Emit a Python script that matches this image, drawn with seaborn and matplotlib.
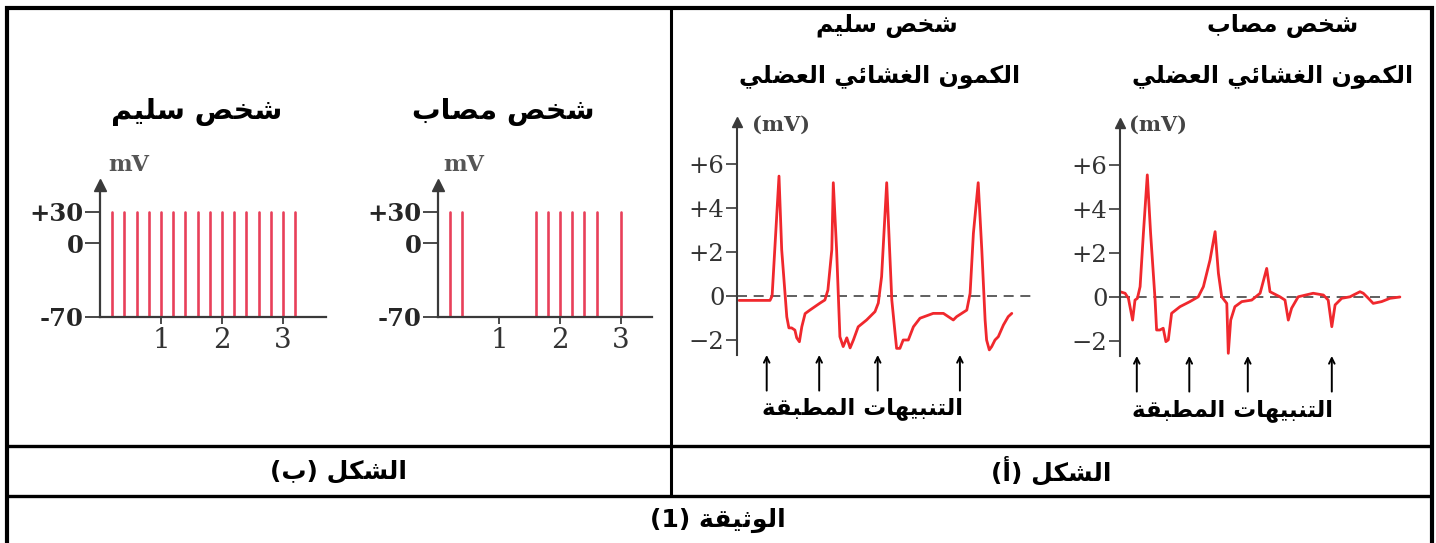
import numpy as np
import pandas as pd
import matplotlib
matplotlib.use("Agg")
import matplotlib.pyplot as plt
import seaborn as sns
from matplotlib.lines import Line2D

# ---- data -----------------------------------------------------------------
# figure (b): spike trains (time in s), spikes go from -70 to +30 mV
healthy_spikes = [0.2, 0.4, 0.6, 0.8, 1.0, 1.2, 1.4, 1.6, 1.8, 2.0, 2.2, 2.4, 2.6, 2.8, 3.0, 3.2]
affected_spikes = [0.2, 0.4, 1.6, 1.8, 2.0, 2.2, 2.4, 2.6, 3.0]
spike_low, spike_high = -70, 30
b_yticks = [-70, 0, 30]
b_yticklabels = ["-70", "0", "+30"]
b_xticks = [1, 2, 3]

# figure (a): muscle membrane potential traces (arbitrary time units, mV)
healthy_t = [0.7, 11.0, 11.7, 14.0, 14.9, 16.6, 17.3, 18.2, 19.3, 19.9, 20.8, 21.6, 22.7, 24.3,
             27.7, 29.3, 30.3, 31.6, 32.1, 33.2, 34.3, 35.4, 36.6, 37.7, 38.8, 40.4, 43.2,
             46.0, 47.1, 48.2, 49.9, 51.6, 52.7, 53.2, 54.3, 55.4, 57.1, 58.8, 61.0, 65.4,
             68.8, 72.1, 73.2, 76.6, 77.7, 78.8, 80.4, 81.6, 82.7, 83.2, 84.1, 84.9, 86.0,
             87.1, 88.8, 90.4, 91.6]
healthy_mv = [-0.2, -0.2, 0.0, 5.45, 2.1, -0.95, -1.45, -1.45, -1.55, -1.9, -2.08, -1.4, -0.8, -0.64,
              -0.32, -0.18, 0.27, 2.1, 5.15, 2.1, -1.85, -2.3, -1.9, -2.36, -2.0, -1.4, -1.09,
              -0.71, -0.32, 0.88, 5.15, -0.18, -1.7, -2.38, -2.38, -2.0, -2.0, -1.4, -1.01, -0.79,
              -0.79, -1.09, -0.94, -0.64, 0.12, 2.85, 5.15, 2.1, -1.09, -2.0, -2.45, -2.3, -2.0,
              -1.85, -1.32, -0.94, -0.79]
affected_t = [0.0, 1.7, 2.8, 4.2, 5.0, 5.8, 6.7, 7.8, 9.1, 10.2, 11.7, 12.2, 13.3, 14.4, 15.3,
              16.1, 17.2, 20.0, 23.3, 26.1, 27.8, 30.0, 31.7, 32.8, 33.9, 35.6, 36.1, 36.9,
              38.3, 40.6, 43.9, 46.7, 48.9, 50.0, 53.3, 55.0, 56.1, 57.2, 59.4, 64.4, 67.8,
              69.4, 70.6, 71.7, 73.9, 76.7, 77.8, 80.0, 81.1, 82.8, 84.4, 87.2, 90.0, 93.3]
affected_mv = [0.24, 0.17, -0.06, -1.05, -0.14, -0.06, 0.47, 2.9, 5.55, 2.9, -0.14, -1.5, -1.5, -1.42,
               -2.03, -1.95, -0.74, -0.44, -0.21, 0.01, 0.47, 1.68, 2.97, 1.08, 0.01, -0.29, -2.56,
               -1.05, -0.44, -0.21, -0.14, 0.17, 1.3, 0.24, 0.01, -0.14, -1.05, -0.51, 0.01, 0.17,
               0.09, -0.14, -1.35, -0.36, -0.06, 0.01, 0.09, 0.24, 0.17, -0.06, -0.29, -0.21,
               -0.06, 0.0]
healthy_stimuli = [9.9, 27.4, 46.9, 74.3]
affected_stimuli = [5.6, 23.1, 42.6, 70.6]
a_yticks = [-2, 0, 2, 4, 6]
a_yticklabels = ["\u22122", "0", "+2", "+4", "+6"]

# texts
t_healthy = "شخص سليم"
t_affected = "شخص مصاب"
t_potential = "الكمون الغشائي العضلي"
t_stimuli = "التنبيهات المطبقة"
t_fig = "الشكل"
t_b = "ب"
t_a = "أ"
t_doc = "الوثيقة"


# ---- minimal Arabic shaping (matplotlib draws no contextual forms) --------
FORMS = {  # isolated, final, initial, medial
    'ا': (0xFE8D, 0xFE8E, None, None), 'أ': (0xFE83, 0xFE84, None, None),
    'ب': (0xFE8F, 0xFE90, 0xFE91, 0xFE92), 'ة': (0xFE93, 0xFE94, None, None),
    'ت': (0xFE95, 0xFE96, 0xFE97, 0xFE98), 'ث': (0xFE99, 0xFE9A, 0xFE9B, 0xFE9C),
    'خ': (0xFEA5, 0xFEA6, 0xFEA7, 0xFEA8), 'س': (0xFEB1, 0xFEB2, 0xFEB3, 0xFEB4),
    'ش': (0xFEB5, 0xFEB6, 0xFEB7, 0xFEB8), 'ص': (0xFEB9, 0xFEBA, 0xFEBB, 0xFEBC),
    'ض': (0xFEBD, 0xFEBE, 0xFEBF, 0xFEC0), 'ط': (0xFEC1, 0xFEC2, 0xFEC3, 0xFEC4),
    'ع': (0xFEC9, 0xFECA, 0xFECB, 0xFECC), 'غ': (0xFECD, 0xFECE, 0xFECF, 0xFED0),
    'ق': (0xFED5, 0xFED6, 0xFED7, 0xFED8), 'ك': (0xFED9, 0xFEDA, 0xFEDB, 0xFEDC),
    'ل': (0xFEDD, 0xFEDE, 0xFEDF, 0xFEE0), 'م': (0xFEE1, 0xFEE2, 0xFEE3, 0xFEE4),
    'ن': (0xFEE5, 0xFEE6, 0xFEE7, 0xFEE8), 'ه': (0xFEE9, 0xFEEA, 0xFEEB, 0xFEEC),
    'و': (0xFEED, 0xFEEE, None, None), 'ي': (0xFEF1, 0xFEF2, 0xFEF3, 0xFEF4),
    'ئ': (0xFE89, 0xFE8A, 0xFE8B, 0xFE8C),
}


def ar(s):
    out = []
    for i, c in enumerate(s):
        if c not in FORMS:
            out.append(c)
            continue
        prev = s[i - 1] if i > 0 else ''
        nxt = s[i + 1] if i + 1 < len(s) else ''
        jp = prev in FORMS and FORMS[prev][2] is not None
        jn = nxt in FORMS and FORMS[c][2] is not None
        iso, fin, ini, med = FORMS[c]
        f = med if (jp and jn) else fin if jp else ini if jn else iso
        out.append(chr(f))
    return ''.join(out[::-1])


# ---- figure ---------------------------------------------------------------
sns.set_style("ticks")
plt.rcParams['font.family'] = ['DejaVu Sans']
W, H = 1436, 543
fig = plt.figure(figsize=(W / 100, H / 100), dpi=100)

AR = dict(family=['DejaVu Sans'], fontweight='bold', color='black')
SERIF = ['DejaVu Serif']

bg = fig.add_axes([0, 0, 1, 1])
bg.set_xlim(0, W)
bg.set_ylim(H, 0)
bg.axis('off')
for (x0, y0, x1, y1, lw) in [(5, 8, 1434, 8, 3.0), (7, 6, 7, H, 3.0), (1432, 6, 1432, H, 3.0),
                             (671, 8, 671, 496, 2.2), (7, 446, 1432, 446, 2.4),
                             (7, 496, 1432, 496, 2.4)]:
    bg.add_line(Line2D([x0, x1], [y0, y1], color='black', lw=lw, solid_capstyle='butt'))


def px_axes(x_left, y_ref_px, x_range, y_range, px_per_x, px_per_y, y_ref=0):
    width = (x_range[1] - x_range[0]) * px_per_x
    top = y_ref_px - (y_range[1] - y_ref) * px_per_y
    bottom = y_ref_px - (y_range[0] - y_ref) * px_per_y
    ax = fig.add_axes([x_left / W, 1 - bottom / H, width / W, (bottom - top) / H])
    ax.set_xlim(*x_range)
    ax.set_ylim(*y_range)
    ax.patch.set_alpha(0)
    return ax


spike_color = '#e8405a'
axis_color = '#3a3a3a'


def spike_panel(ax, spikes):
    df = pd.DataFrame({
        'spike': np.repeat(np.arange(len(spikes)), 2),
        't': np.repeat(spikes, 2),
        'mV': [spike_low, spike_high] * len(spikes),
    })
    sns.lineplot(data=df, x='t', y='mV', units='spike', estimator=None,
                 color=spike_color, lw=1.9, ax=ax, legend=False)
    sns.despine(ax=ax)
    for s in ('left', 'bottom'):
        ax.spines[s].set_color(axis_color)
        ax.spines[s].set_linewidth(1.6)
    ax.set_yticks(b_yticks)
    ax.set_yticklabels(b_yticklabels, family=SERIF, fontweight='bold', fontsize=17.5)
    ax.set_xticks(b_xticks)
    ax.set_xticklabels([str(v) for v in b_xticks], family=SERIF, fontsize=20, color='#333333')
    ax.tick_params(axis='y', length=11, width=1.3, color=axis_color, pad=1)
    ax.tick_params(axis='x', length=5, width=1.3, color=axis_color, pad=2)
    ax.set_xlabel('')
    ax.set_ylabel('')
    ax.plot(0, 1, marker='^', color=axis_color, ms=8, transform=ax.transAxes, clip_on=False)


# figure (b) - healthy: baseline -70 mV sits at pixel row 317
ax1 = px_axes(100, 317, (0, 3.7), (-70, 56), 61, 1.05, y_ref=-70)
spike_panel(ax1, healthy_spikes)
# figure (b) - affected
ax2 = px_axes(438, 317, (0, 3.5), (-70, 56), 61, 1.05, y_ref=-70)
spike_panel(ax2, affected_spikes)

bg.text(197, 112, ar(t_healthy), ha='center', va='center', fontsize=20.5, **AR)
bg.text(503, 112, ar(t_affected), ha='center', va='center', fontsize=20.5, **AR)
bg.text(129, 165, 'mV', ha='center', va='center', family=SERIF, fontsize=16,
        fontweight='bold', color='#555555')
bg.text(464, 165, 'mV', ha='center', va='center', family=SERIF, fontsize=16,
        fontweight='bold', color='#555555')

trace_color = '#f0282d'


def trace_panel(ax, t, mv, stimuli):
    ax.axhline(0, color='#444444', lw=1.2, ls=(0, (6, 4)))
    sns.lineplot(x=t, y=mv, sort=False, color=trace_color, lw=2.0, ax=ax)
    sns.despine(ax=ax, bottom=True)
    ax.spines['left'].set_color(axis_color)
    ax.spines['left'].set_linewidth(1.5)
    ax.set_xticks([])
    ax.set_yticks(a_yticks)
    ax.set_yticklabels(a_yticklabels, family=SERIF, fontsize=17.5, color='#333333')
    ax.tick_params(axis='y', length=8, width=1.2, color=axis_color, pad=1)
    ax.plot(0, 1, marker='^', color=axis_color, ms=7, transform=ax.transAxes, clip_on=False)
    for s in stimuli:
        ax.annotate('', xy=(s, -2.68), xytext=(s, -4.3),
                    arrowprops=dict(arrowstyle='->', lw=1.4, color='black',
                                    shrinkA=0, shrinkB=0),
                    annotation_clip=False)


# figure (a) - healthy
ax3 = px_axes(737, 296, (0, 100), (-2.7, 7.9), 3, 22)
trace_panel(ax3, healthy_t, healthy_mv, healthy_stimuli)
# figure (a) - affected
ax4 = px_axes(1120, 297, (0, 94), (-2.7, 7.9), 3, 22)
trace_panel(ax4, affected_t, affected_mv, affected_stimuli)

bg.text(887, 26, ar(t_healthy), ha='center', va='center', fontsize=17, **AR)
bg.text(1283, 26, ar(t_affected), ha='center', va='center', fontsize=17, **AR)
for cx in (880, 1273):
    bg.text(cx, 77, ar(t_potential), ha='center', va='center', fontsize=17, **AR)
bg.text(781, 125, '(mV)', ha='center', va='center', family=SERIF, fontsize=15,
        fontweight='bold', color='#444444')
bg.text(1158, 125, '(mV)', ha='center', va='center', family=SERIF, fontsize=15,
        fontweight='bold', color='#444444')
bg.text(862, 409, ar(t_stimuli), ha='center', va='center', fontsize=16.5, **AR)
bg.text(1233, 410, ar(t_stimuli), ha='center', va='center', fontsize=16.5, **AR)

# captions (right-to-left: the bracketed mark sits on the left)
bg.text(339, 471, '(' + ar(t_b) + ') ' + ar(t_fig), ha='center', va='center', fontsize=18, **AR)
bg.text(1051, 471, '(' + ar(t_a) + ') ' + ar(t_fig), ha='center', va='center', fontsize=18, **AR)
bg.text(718, 520, '(1) ' + ar(t_doc), ha='center', va='center', fontsize=18, **AR)

fig.savefig('out.png', dpi=100)
